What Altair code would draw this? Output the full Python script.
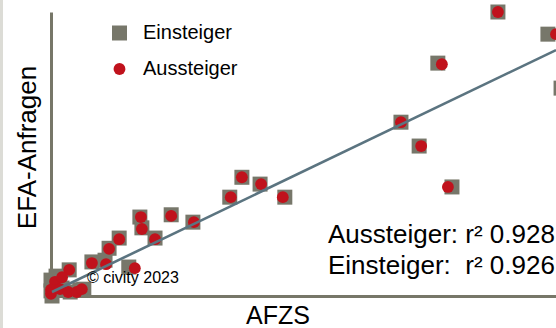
import altair as alt
import pandas as pd

# AFZS vs. EFA-Anfragen per station, entries ("Einsteiger") and exits ("Aussteiger")
ein_afzs = [8850, 9840, 7660, 10100, 6930, 7290, 7940, 4630, 3780, 4140,
            3540, 2380, 2810, 1760, 1800, 2060, 1350, 1150, 810, 1070,
            1540, 360, 0, 100, 0, 20, 220, 380, 570, 650]
ein_efa = [5000, 4610, 4100, 3660, 3060, 2640, 1920, 1740, 2090, 1970,
           1740, 1430, 1300, 1390, 1200, 1020, 1020, 840, 600, 630,
           510, 460, 280, 350, 90, 0, 140, 70, 110, 120]

aus_afzs = [8850, 10000, 7740, 10120, 6930, 7330, 7860, 4590, 3780, 4160,
            3560, 2380, 2830, 1780, 1800, 2060, 1350, 1150, 810, 1090,
            1660, 360, 80, 220, 0, 0, 180, 340, 510, 610]
aus_efa = [5000, 4610, 4080, 3660, 3060, 2640, 1920, 1740, 2090, 1970,
           1740, 1410, 1300, 1390, 1180, 1000, 1000, 830, 580, 560,
           490, 460, 250, 330, 110, 40, 120, 70, 70, 120]

# Trend line (start and end of the fitted line)
fit_afzs = [20, 10000]
fit_efa = [70, 4330]

series = ["Einsteiger", "Aussteiger"]
series_colors = ["#77776a", "#c0121c"]
series_shapes = ["square", "circle"]
series_sizes = [225, 140]

r2_lines = ["Aussteiger: r² 0.928", "Einsteiger:\u00a0 r² 0.926"]
credit = "© civity 2023"

FONT = "Liberation Sans, Arial, sans-serif"
AXIS_GRAY = "#777768"

points = pd.DataFrame(
    {
        "AFZS": ein_afzs + aus_afzs,
        "EFA": ein_efa + aus_efa,
        "Serie": ["Einsteiger"] * len(ein_afzs) + ["Aussteiger"] * len(aus_afzs),
    }
)
fit = pd.DataFrame({"AFZS": fit_afzs, "EFA": fit_efa})

x_scale = alt.Scale(domain=[0, 10000], nice=False, zero=True)
y_scale = alt.Scale(domain=[0, 5000], nice=False, zero=True)

x_axis = alt.Axis(
    title="AFZS", labels=False, ticks=False, grid=False,
    domainColor=AXIS_GRAY, domainWidth=3,
    titleFont=FONT, titleFontSize=25, titleFontWeight="normal", titleColor="#000000",
    titleX=226.5, titleY=27, titleAlign="center", titleBaseline="alphabetic",
)
y_axis = alt.Axis(
    title="EFA-Anfragen", labels=False, ticks=False, grid=False,
    domainColor=AXIS_GRAY, domainWidth=3,
    titleFont=FONT, titleFontSize=26, titleFontWeight="normal", titleColor="#000000",
    titleX=-24, titleY=135, titleAngle=-90, titleAlign="center", titleBaseline="middle",
)

legend = alt.Legend(
    orient="none", legendX=58.5, legendY=11, padding=0,
    labelFont=FONT, labelFontSize=20, labelColor="#000000",
    labelOffset=13.5, rowPadding=16, symbolStrokeWidth=0,
)

scatter = alt.Chart(points).mark_point(filled=True, opacity=1, strokeWidth=0).encode(
    x=alt.X("AFZS:Q", scale=x_scale, axis=x_axis),
    y=alt.Y("EFA:Q", scale=y_scale, axis=y_axis),
    color=alt.Color("Serie:N", title=None, legend=legend,
                    scale=alt.Scale(domain=series, range=series_colors)),
    shape=alt.Shape("Serie:N", title=None, legend=legend,
                    scale=alt.Scale(domain=series, range=series_shapes)),
    size=alt.Size("Serie:N", title=None, legend=legend,
                  scale=alt.Scale(domain=series, range=series_sizes)),
)

trend = alt.Chart(fit).mark_line(color="#5b7480", strokeWidth=2.6).encode(
    x=alt.X("AFZS:Q", scale=x_scale),
    y=alt.Y("EFA:Q", scale=y_scale),
)

# r² annotations, one line each
r2_top = alt.Chart(pd.DataFrame({"label": [r2_lines[0]]})).mark_text(
    font=FONT, fontSize=26, align="left", baseline="alphabetic", color="#000000"
).encode(x=alt.value(277), y=alt.value(231), text="label:N")
r2_bottom = alt.Chart(pd.DataFrame({"label": [r2_lines[1]]})).mark_text(
    font=FONT, fontSize=26, align="left", baseline="alphabetic", color="#000000"
).encode(x=alt.value(277), y=alt.value(262), text="label:N")

credit_text = alt.Chart(pd.DataFrame({"t": [credit]})).mark_text(
    font=FONT, fontSize=16, align="left", baseline="alphabetic", color="#000000"
).encode(x=alt.value(36), y=alt.value(271), text="t:N")

# light frame line along the left edge
edge = alt.Chart(pd.DataFrame({"k": [0]})).mark_rule(
    color="#dcdcd6", strokeWidth=3
).encode(x=alt.value(-49.5), y=alt.value(-12), y2=alt.value(316))

chart = (
    alt.layer(edge, scatter, trend, r2_top, r2_bottom, credit_text)
    .properties(
        width=505,
        height=284,
        autosize=alt.AutoSizeParams(type="none"),
        padding={"left": 51, "top": 12, "right": 0, "bottom": 32},
        background="#ffffff",
    )
    .configure_view(strokeWidth=0)
)

chart.save("out.html", embed_options={"renderer": "svg", "actions": False})
